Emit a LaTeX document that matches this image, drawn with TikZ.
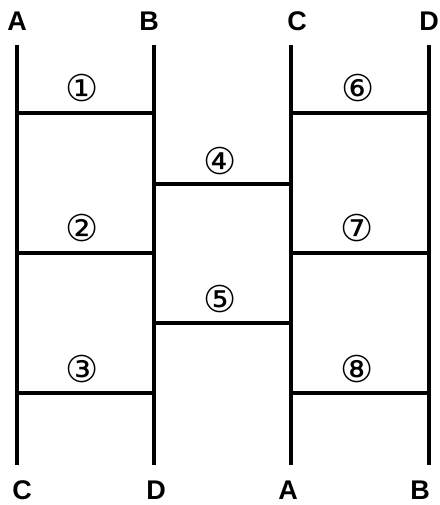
\documentclass[tikz,border=0pt]{standalone}
\usepackage{fontspec}
\setmainfont{Liberation Sans}
\newfontfamily\circfont{DejaVu Sans}
\begin{document}
\begin{tikzpicture}[x=1pt,y=-1pt,
  rail/.style={line width=4.2pt},
  rung/.style={line width=3.8pt},
  letter/.style={font=\fontsize{27}{27}\selectfont\bfseries, inner sep=0pt, anchor=center},
  num/.style={font=\circfont\fontsize{37}{37}\selectfont, inner sep=0pt, anchor=center}]
\useasboundingbox (0,0) rectangle (439,505);
% rails
\coordinate (At) at (17,45);  \coordinate (Ab) at (17,465);
\coordinate (Bt) at (154,45); \coordinate (Bb) at (154,465);
\coordinate (Ct) at (291,45); \coordinate (Cb) at (291,465);
\coordinate (Dt) at (429,45); \coordinate (Db) at (429,465);
\draw[rail] (At) -- (Ab);
\draw[rail] (Bt) -- (Bb);
\draw[rail] (Ct) -- (Cb);
\draw[rail] (Dt) -- (Db);
% rungs
\foreach \y in {113,253,393}{
  \draw[rung] (17,\y) -- (154,\y);
  \draw[rung] (291,\y) -- (429,\y);
}
\foreach \y in {184,323}{
  \draw[rung] (154,\y) -- (291,\y);
}
% letters
\node[letter] (tA) at (17,21) {A};
\node[letter] (tB) at (149,21) {B};
\node[letter] (tC) at (297,21) {C};
\node[letter] (tD) at (429,21) {D};
\node[letter] (bC) at (22,490) {C};
\node[letter] (bD) at (156,490) {D};
\node[letter] (bA) at (288,490) {A};
\node[letter] (bB) at (420,490) {B};
% numbers
\node[num] (n1) at (82,88) {①};
\node[num] (n2) at (82,228) {②};
\node[num] (n3) at (82,369) {③};
\node[num] (n4) at (220,161) {④};
\node[num] (n5) at (220,299) {⑤};
\node[num] (n6) at (358,88) {⑥};
\node[num] (n7) at (357,228) {⑦};
\node[num] (n8) at (357,369) {⑧};
\end{tikzpicture}
\end{document}
